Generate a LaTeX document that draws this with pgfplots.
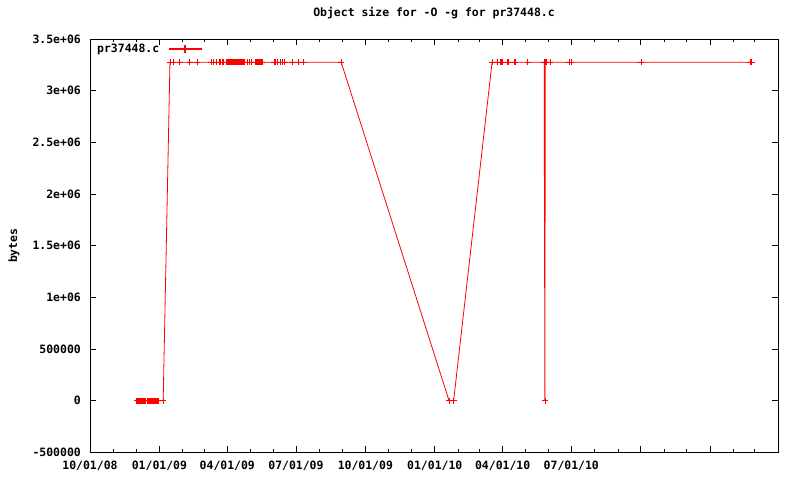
\documentclass[border=0pt]{standalone}
\usepackage{fontspec}
\setmainfont{DejaVu Sans Mono}
\usepackage{pgfplots}
\pgfplotsset{compat=1.18}

% x = days since 10/01/08, y = object size in bytes
\pgfplotstableread{
day bytes
62 0
63 0
64 0
65 0
66 0
67 0
68 0
69 0
70 0
71 0
72 0
73 0
76 0
77 0
78 0
79 0
80 0
81 0
82 0
83 0
84 0
85 0
86 0
87 0
88 0
89 0
90 0
91 0
97 0
106 3275000
107 3275000
110 3275000
119 3275000
132 3275000
142 3275000
161 3275000
163 3275000
167 3275000
171 3275000
172 3275000
173 3275000
175 3275000
177 3275000
181 3275000
182 3275000
183 3275000
184 3275000
185 3275000
186 3275000
187 3275000
188 3275000
189 3275000
190 3275000
191 3275000
192 3275000
193 3275000
194 3275000
195 3275000
196 3275000
197 3275000
198 3275000
199 3275000
200 3275000
201 3275000
202 3275000
203 3275000
205 3275000
208 3275000
211 3275000
214 3275000
219 3275000
220 3275000
221 3275000
222 3275000
223 3275000
224 3275000
225 3275000
226 3275000
227 3275000
228 3275000
244 3275000
246 3275000
249 3275000
252 3275000
255 3275000
258 3275000
268 3275000
276 3275000
283 3275000
333 3275000
476 0
482 0
533 3275000
540 3275000
544 3275000
545 3275000
546 3275000
553 3275000
555 3275000
562 3275000
564 3275000
580 3275000
602 3275000
603 0
603.5 3275000
605 3275000
610 3275000
635 3275000
638 3275000
731 3275000
875 3275000
877 3275000
}\sizedata

\begin{document}
\begin{tikzpicture}
\path[use as bounding box] (-90bp,-27.5bp) rectangle (710bp,452.5bp);
\begin{axis}[
    scale only axis,
    width=688bp, height=413.5bp,
    xmin=0, xmax=912,
    ymin=-500000, ymax=3500000,
    font=\fontsize{11.5}{13}\selectfont\bfseries,
    /pgf/number format/assume math mode=true,
    title={Object size for -O -g for pr37448.c},
    title style={at={(axis description cs:0.5,1)}, anchor=center, yshift=20bp},
    ylabel={bytes},
    ylabel style={at={(axis description cs:-0.1105,0.5)}, anchor=center},
    xtick={0,92,182,273,365,457,547,638,730,822,912},
    xticklabels={10/01/08,01/01/09,04/01/09,07/01/09,10/01/09,01/01/10,04/01/10,07/01/10,,,},
    minor xtick={31,61,123,151,212,243,304,335,396,426,488,516,577,608,669,700,761,791,853,881},
    ytick={-500000,0,500000,1000000,1500000,2000000,2500000,3000000,3500000},
    yticklabels={-500000,0,500000,1e+06,1.5e+06,2e+06,2.5e+06,3e+06,3.5e+06},
    scaled y ticks=false,
    xticklabel style={anchor=center, yshift=-13.5bp},
    yticklabel style={anchor=east, inner sep=0pt, xshift=-9bp},
    major tick length=6bp, minor tick length=3bp,
    tick style={black, line width=0.8bp},
    axis line style={black, line width=0.8bp},
    legend plot pos=right,
    legend cell align=left,
    legend style={at={(axis description cs:0,1)}, anchor=north west, draw=none, fill=none,
        xshift=2bp, yshift=-1bp, font=\fontsize{11.5}{13}\selectfont\bfseries},
    legend image code/.code={%
        \path[draw=none,fill=none] (0bp,-3.5bp) rectangle (40bp,3.5bp);
        \pgfsetfillcolor{red}%
        \fill[fill=red] (8bp,-0.6bp) rectangle (40bp,0.6bp);
        \fill[fill=red] (23.4bp,-3.5bp) rectangle (24.6bp,3.5bp);},
]
\addplot[red, line width=0.8bp, mark=+, mark size=3bp, mark options={solid}] table[x=day, y=bytes] {\sizedata};
\addlegendentry{pr37448.c}
\end{axis}
\end{tikzpicture}
\end{document}
